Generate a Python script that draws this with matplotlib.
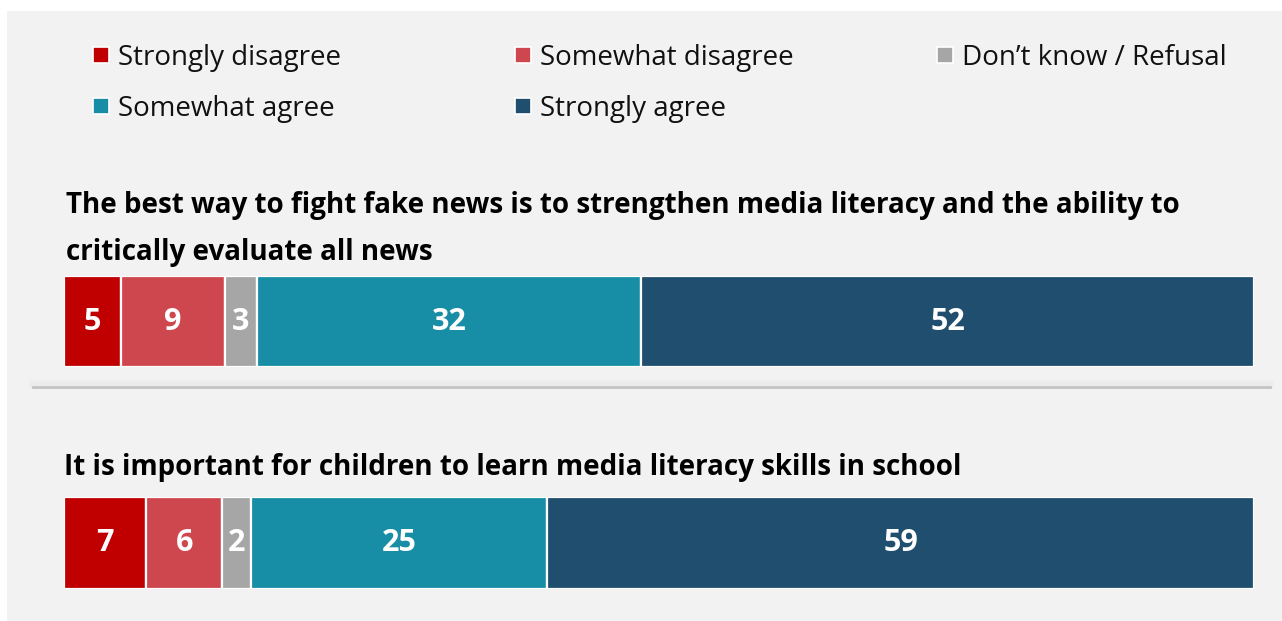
import matplotlib
matplotlib.use("Agg")
import matplotlib.pyplot as plt
from matplotlib.patches import Rectangle
from matplotlib.lines import Line2D

plt.rcParams['font.family'] = ['Open Sans', 'DejaVu Sans']

categories = ['Strongly disagree', 'Somewhat disagree', 'Don\u2019t know / Refusal',
              'Somewhat agree', 'Strongly agree']
colors = ['#C00000', '#CF474E', '#A6A6A6', '#188EA6', '#1F4E6E']

questions = [
    'The best way to fight fake news is to strengthen media literacy and the ability to\ncritically evaluate all news',
    'It is important for children to learn media literacy skills in school',
]
# shares (%); labels are the rounded numbers shown
values_q1 = [4.8, 8.7, 2.7, 32.3, 51.5]
values_q2 = [6.9, 6.4, 2.4, 24.9, 59.4]

W, H = 1282, 621
fig = plt.figure(figsize=(W / 100, H / 100), dpi=100, facecolor='white')

def fx(px):
    return px / W

def fy(py):
    return 1 - py / H

# gray panel (behind everything)
fig.patches.append(Rectangle((fx(7), 0), 1 - fx(7), fy(11), transform=fig.transFigure,
                             facecolor='#F2F2F2', edgecolor='none', zorder=-5))

# legend
leg_pos = [(93, 55), (515, 55), (937, 55), (93, 106), (515, 106)]
for (x, y), cat, col in zip(leg_pos, categories, colors):
    fig.patches.append(Rectangle((fx(x), fy(y + 8)), fx(16), 16 / H, transform=fig.transFigure,
                                 facecolor=col, edgecolor='white', linewidth=1.2, zorder=2))
    fig.text(fx(x + 25), fy(y + 3), cat, fontsize=20, va='center', ha='left', color='#111111')

# titles
fig.text(fx(66), fy(229), questions[0], fontsize=20, fontweight='bold', va='center', ha='left',
         linespacing=1.85, color='black')
fig.text(fx(64), fy(467), questions[1], fontsize=20, fontweight='bold', va='center', ha='left',
         color='black')

# bars
def draw_bar(vals, top, bottom):
    ax = fig.add_axes([fx(64), fy(bottom), fx(1254 - 64), (bottom - top) / H])
    total = sum(vals)
    left = 0
    for v, col in zip(vals, colors):
        w = v / total
        ax.barh(0, w, left=left, height=1, color=col, edgecolor='white', linewidth=1.6)
        ax.text(left + w / 2, 0, f'{v:.0f}', color='white', fontsize=22, fontweight='bold',
                ha='center', va='center')
        left += w
    ax.set_xlim(0, 1)
    ax.set_ylim(-0.5, 0.5)
    ax.axis('off')

draw_bar(values_q1, 276, 367)
draw_bar(values_q2, 497, 589)

# divider with soft shadow
for off, a, lw in [(3, 0.05, 6), (2, 0.08, 4), (0, 1.0, 2)]:
    fig.lines.append(Line2D([fx(33), fx(1270)], [fy(387 - off), fy(387 - off)],
                            transform=fig.transFigure, color='#C4C4C4', alpha=a, linewidth=lw))

fig.savefig('out.png', dpi=100, facecolor='white')
